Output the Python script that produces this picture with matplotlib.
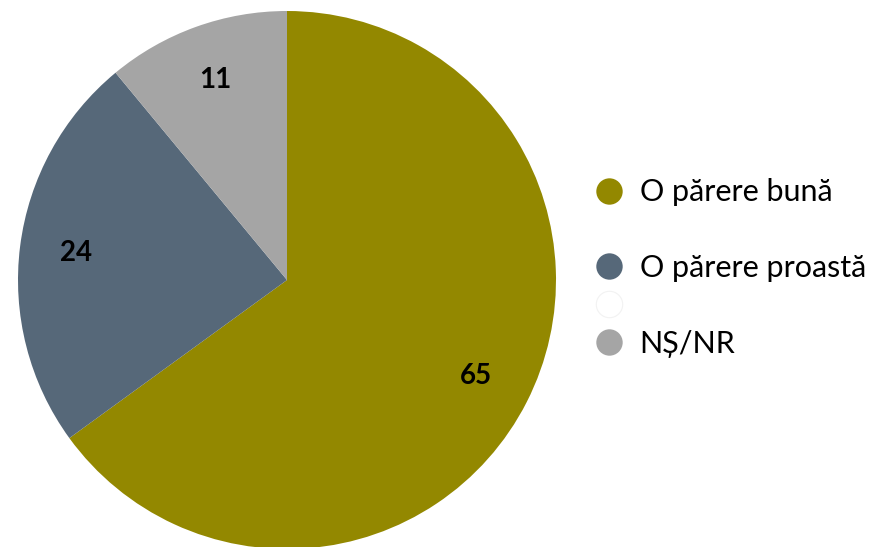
import matplotlib.pyplot as plt
from matplotlib.lines import Line2D

labels = ["O părere bună", "O părere proastă", "NȘ/NR"]
values = [65, 24, 11]
colors = ["#938800", "#566879", "#A5A5A5"]

plt.rcParams['font.family'] = ['Lato', 'DejaVu Sans']

fig = plt.figure(figsize=(8.78, 5.47), dpi=100)
W, H = 878, 547
cx, cy, r = 287, 280, 269
ax = fig.add_axes([(cx - r) / W, (H - cy - r) / H, 2 * r / W, 2 * r / H])

wedges, texts, autotexts = ax.pie(values, colors=colors, startangle=90, counterclock=False,
                                  autopct=lambda p: "%d" % round(p), pctdistance=0.79,
                                  wedgeprops=dict(linewidth=0))
for t in autotexts:
    t.set_fontsize(20)
    t.set_fontweight("bold")
    t.set_color("black")
ax.set_xlim(-1, 1)
ax.set_ylim(-1, 1)
ax.set_aspect("equal")

# legend: blank rows included to match the original spacing
handles = [
    Line2D([], [], marker="o", linestyle="none", markersize=19, markerfacecolor=colors[0], markeredgewidth=0),
    Line2D([], [], marker="o", linestyle="none", markersize=19, markerfacecolor="none", markeredgewidth=0),
    Line2D([], [], marker="o", linestyle="none", markersize=19, markerfacecolor=colors[1], markeredgewidth=0),
    Line2D([], [], marker="o", linestyle="none", markersize=19, markerfacecolor="white",
           markeredgecolor="#F2F2F2", markeredgewidth=0.8),
    Line2D([], [], marker="o", linestyle="none", markersize=19, markerfacecolor=colors[2], markeredgewidth=0),
]
leg_labels = [labels[0], " ", labels[1], " ", labels[2]]
fig.legend(handles, leg_labels, loc="center left", bbox_to_anchor=(589 / W, 1 - 268 / H),
           frameon=False, fontsize=22, labelspacing=0.32, handletextpad=0.36,
           handlelength=1.3, borderpad=0, borderaxespad=0)

fig.savefig("out.png", dpi=100)
